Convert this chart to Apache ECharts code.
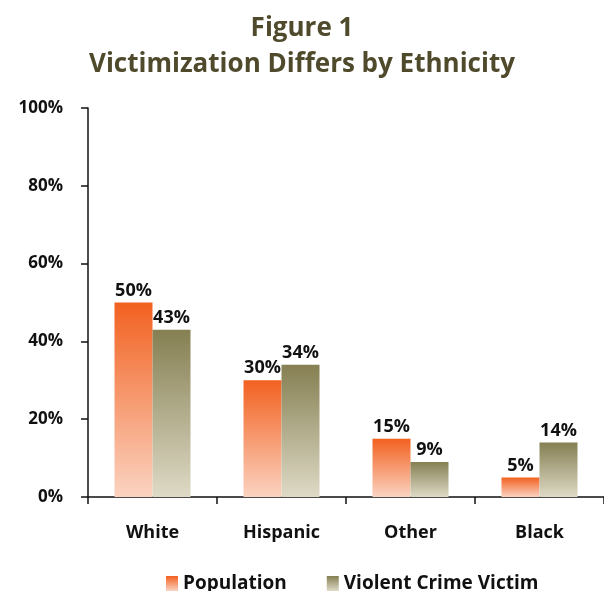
<!DOCTYPE html>
<html>
<head>
<meta charset="utf-8">
<script src="https://cdn.jsdelivr.net/npm/echarts@6/dist/echarts.min.js"></script>
<style>
  html, body { margin: 0; padding: 0; background: #ffffff; }
  #chart { width: 604px; height: 591px; }
</style>
</head>
<body>
<div id="chart"></div>
<script>
// Share of each group, in percent
const categories = ['White', 'Hispanic', 'Other', 'Black'];
const population = [50, 30, 15, 5];
const victims = [43, 34, 9, 14];
const yTicks = [0, 20, 40, 60, 80, 100];

const FONT = '"Open Sans", "DejaVu Sans", sans-serif';

function vgrad(top, bottom) {
  return new echarts.graphic.LinearGradient(0, 0, 0, 1, [
    { offset: 0, color: top },
    { offset: 1, color: bottom }
  ]);
}

const popColor = vgrad('#f26120', '#fbd3c1');
const vicColor = vgrad('#857f52', '#dedac6');

const valueLabel = {
  show: true,
  position: 'top',
  distance: 3,
  formatter: p => p.value + '%',
  fontFamily: FONT,
  fontWeight: 'bold',
  fontSize: 18,
  color: '#111111'
};

const chart = echarts.init(document.getElementById('chart'), null, { renderer: 'canvas' });

chart.setOption({
  animation: false,
  backgroundColor: '#ffffff',
  title: {
    text: 'Figure 1\nVictimization Differs by Ethnicity',
    left: 'center',
    top: 6,
    textStyle: {
      fontFamily: FONT,
      fontWeight: 'bold',
      fontSize: 26,
      lineHeight: 36,
      color: '#4f4a2c'
    }
  },
  legend: {
    top: 569,
    left: 161,
    itemWidth: 12,
    itemHeight: 15,
    itemGap: 40,
    icon: 'rect',
    textStyle: {
      fontFamily: FONT,
      fontWeight: 'bold',
      fontSize: 19,
      color: '#111111'
    },
    data: ['Population', 'Violent Crime Victim']
  },
  grid: {
    left: 88,
    right: 0,
    top: 108,
    bottom: 94,
    containLabel: false
  },
  xAxis: {
    type: 'category',
    data: categories,
    axisLine: { lineStyle: { color: '#111111', width: 1.5 } },
    axisTick: { show: true, length: 7, lineStyle: { color: '#111111', width: 1.5 } },
    axisLabel: {
      margin: 27,
      fontFamily: FONT,
      fontWeight: 'bold',
      fontSize: 18,
      color: '#111111'
    }
  },
  yAxis: {
    type: 'value',
    min: 0,
    max: 100,
    interval: 20,
    axisLine: { show: true, lineStyle: { color: '#111111', width: 1.5 } },
    axisTick: { show: true, length: 7, lineStyle: { color: '#111111', width: 1.5 } },
    splitLine: { show: false },
    axisLabel: {
      margin: 25,
      fontFamily: FONT,
      fontWeight: 'bold',
      fontSize: 17,
      color: '#111111',
      formatter: v => (yTicks.includes(v) ? v + '%' : '')
    }
  },
  series: [
    {
      name: 'Population',
      type: 'bar',
      data: population,
      barWidth: 38,
      barGap: '0%',
      itemStyle: { color: popColor },
      label: valueLabel
    },
    {
      name: 'Violent Crime Victim',
      type: 'bar',
      data: victims,
      barWidth: 38,
      barGap: '0%',
      itemStyle: { color: vicColor },
      label: valueLabel
    }
  ]
});
</script>
</body>
</html>
